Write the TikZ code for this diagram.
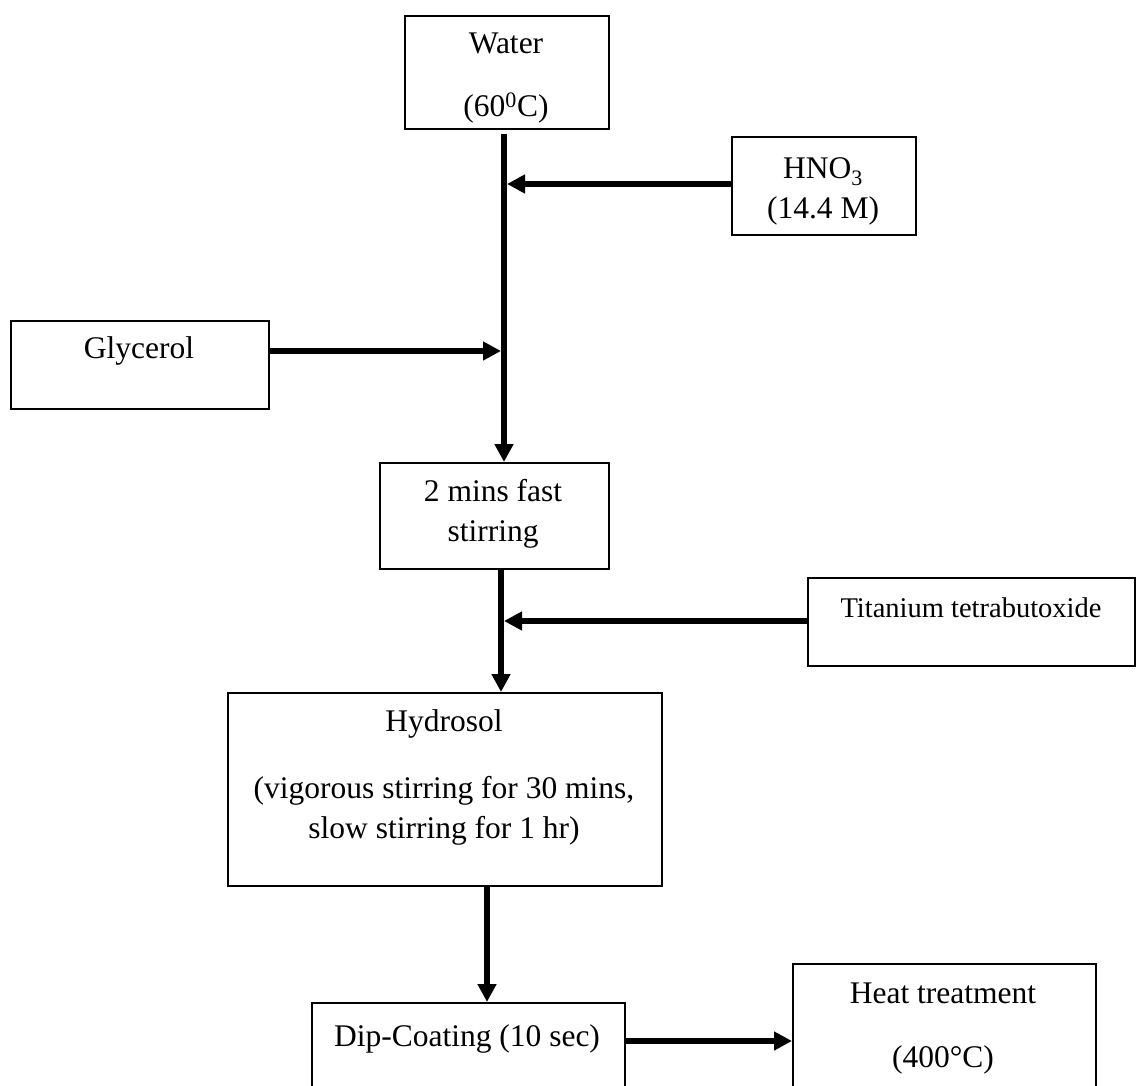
\documentclass[tikz,border=0pt]{standalone}
\usepackage{fontspec}
\setmainfont{Liberation Serif}
\usetikzlibrary{arrows.meta}

\begin{document}
\begin{tikzpicture}[x=1pt,y=-1pt,
  box/.style={draw, line width=2.2pt, inner sep=0pt, anchor=north west},
  txt/.style={anchor=base, inner sep=0pt, font=\fontsize{31.5}{38}\selectfont},
  smalltxt/.style={anchor=base, inner sep=0pt, font=\fontsize{28.5}{34}\selectfont},
  flow/.style={line width=5.5pt, -{Triangle[length=18pt,width=18pt]}}]
\useasboundingbox (0,0) rectangle (1136,1086);
\clip (0,0) rectangle (1136,1086);

% process boxes
\node[box, minimum width=204pt, minimum height=113pt] (water) at (404,15) {};
\node[box, minimum width=184pt, minimum height=98pt]  (hno)   at (731,136) {};
\node[box, minimum width=258pt, minimum height=88pt]  (gly)   at (10,320) {};
\node[box, minimum width=229pt, minimum height=106pt] (stir)  at (379,462) {};
\node[box, minimum width=327pt, minimum height=88pt]  (tit)   at (807,577) {};
\node[box, minimum width=434pt, minimum height=193pt] (hyd)   at (227,692) {};
\node[box, minimum width=313pt, minimum height=110pt] (dip)   at (311,1002) {};
\node[box, minimum width=303pt, minimum height=140pt] (heat)  at (792,963) {};

% box texts
\node[txt] (waterA) at (506,54)  {Water};
\node[txt] (waterB) at (506,117) {(60\textsuperscript{0}C)};
\node[txt] (hnoA)   at (823,179) {HNO\textsubscript{3}};
\node[txt] (hnoB)   at (823,219) {(14.4 M)};
\node[txt] (glyA)   at (139,358) {Glycerol};
\node[txt] (stirA)  at (493,501) {2 mins fast};
\node[txt] (stirB)  at (493,541) {stirring};
\node[smalltxt] (titA) at (971,617) {Titanium tetrabutoxide};
\node[txt] (hydA)   at (444,731) {Hydrosol};
\node[txt] (hydB)   at (444,798) {(vigorous stirring for 30 mins,};
\node[txt] (hydC)   at (444,838) {slow stirring for 1 hr)};
\node[txt] (dipA)   at (467,1046) {Dip-Coating (10 sec)};
\node[txt] (heatA)  at (943,1003) {Heat treatment};
\node[txt] (heatB)  at (943,1067) {(400\textdegree C)};

% junction points on the main line
\coordinate (spineA) at (504,0);
\coordinate (spineB) at (501,0);
\coordinate (spineC) at (487,0);
\coordinate (lineTop) at (504,134);
\coordinate (inHno)  at (507,184);
\coordinate (inGly)  at (501,351);
\coordinate (inTit)  at (504,621);
\coordinate (toHeat) at (0,1041);

% connectors
\draw[flow] (lineTop) -- (stir.north -| spineA);
\draw[flow] (hno.west |- inHno) -- (inHno);
\draw[flow] (gly.east |- inGly) -- (inGly);
\draw[flow] (stir.south -| spineB) -- (hyd.north -| spineB);
\draw[flow] (tit.west |- inTit) -- (inTit);
\draw[flow] (hyd.south -| spineC) -- (dip.north -| spineC);
\draw[flow] (dip.east |- toHeat) -- (heat.west |- toHeat);
\end{tikzpicture}
\end{document}
